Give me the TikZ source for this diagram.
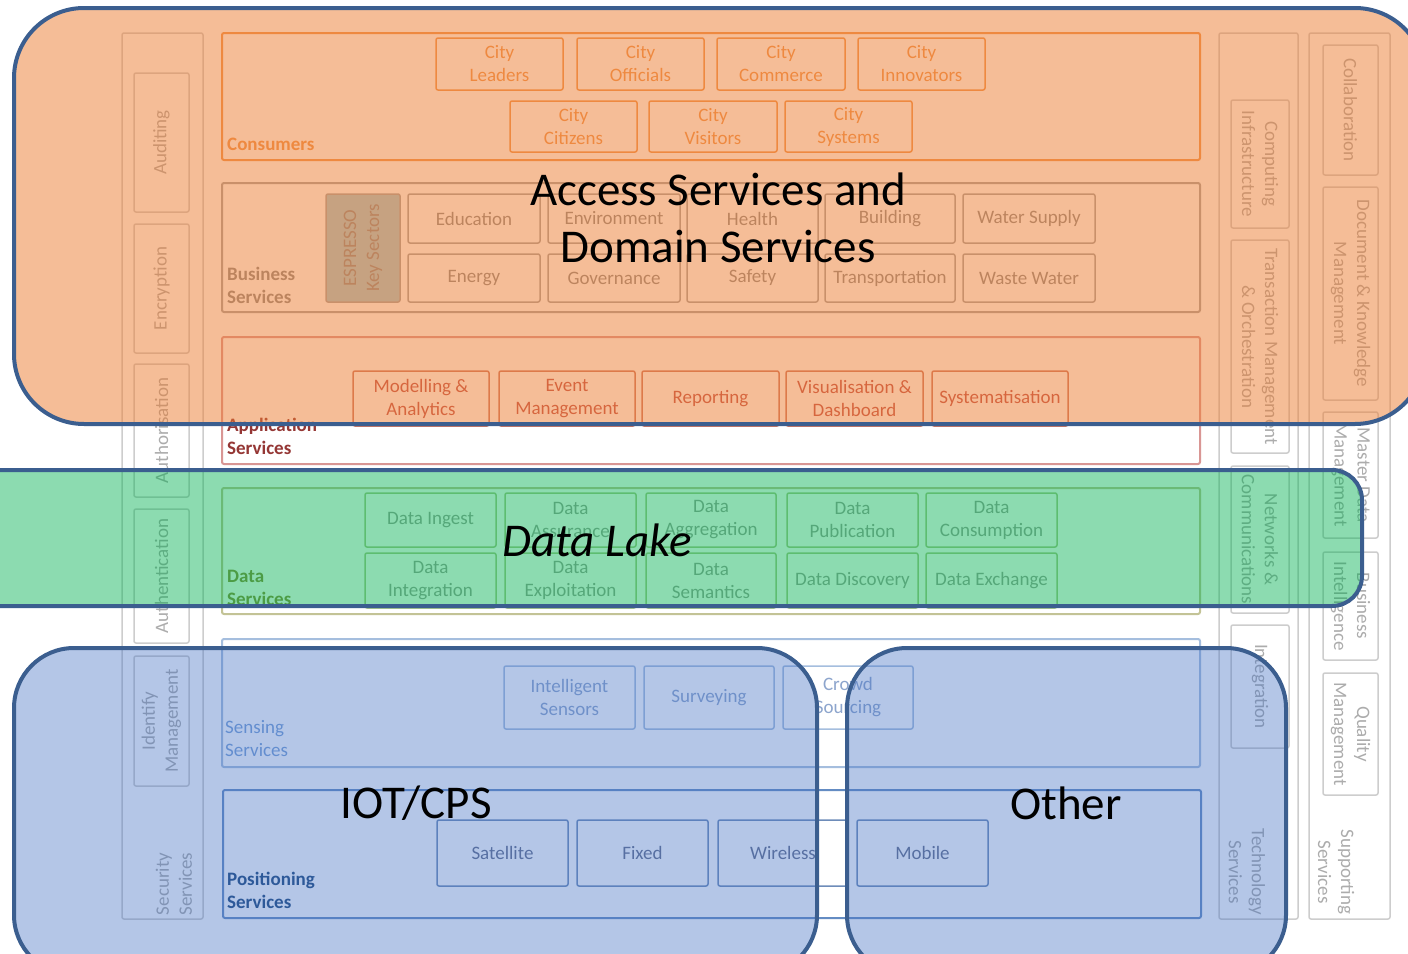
\documentclass[tikz,border=0pt]{standalone}
\usepackage{fontspec}
\setmainfont{Carlito}
\newcommand\smallfnt{\fontsize{19}{23}\selectfont}
\newcommand\bigfnt{\fontsize{47}{57}\selectfont}
\definecolor{ovO}{RGB}{237,125,49}
\definecolor{ovG}{RGB}{0,176,80}
\definecolor{ovB}{RGB}{68,114,196}
\definecolor{ovEdge}{RGB}{59,94,143}
\definecolor{frameGray}{RGB}{205,205,205}
\definecolor{txtGray}{RGB}{172,172,172}
\definecolor{cityC}{RGB}{240,150,80}
\definecolor{busEdge}{RGB}{165,165,165}
\definecolor{busTxt}{RGB}{140,140,140}
\definecolor{espFill}{RGB}{160,200,210}
\definecolor{appEdge}{RGB}{217,150,148}
\definecolor{appBox}{RGB}{205,120,100}
\definecolor{appTxt}{RGB}{192,80,77}
\definecolor{appLbl}{RGB}{149,55,53}
\definecolor{datEdge}{RGB}{195,195,150}
\definecolor{datBox}{RGB}{170,200,140}
\definecolor{datTxt}{RGB}{155,160,155}
\definecolor{datLbl}{RGB}{140,140,60}
\definecolor{senEdge}{RGB}{165,190,222}
\definecolor{senTxt}{RGB}{141,165,205}
\definecolor{senLbl}{RGB}{120,160,215}
\definecolor{posEdge}{RGB}{100,140,195}
\definecolor{posBox}{RGB}{110,140,185}
\definecolor{posTxt}{RGB}{100,110,140}
\definecolor{posLbl}{RGB}{31,73,125}
\newcommand\rbox[7]{%
  \pgfmathsetmacro\rbw{#5-(#3)}%
  \pgfmathsetmacro\rbh{#6-(#4)}%
  \pgfmathsetmacro\rbx{(#3+#5)/2}%
  \pgfmathsetmacro\rby{(#4+#6)/2}%
  \node[#2, minimum width=\rbw pt, minimum height=\rbh pt] (#1) at (\rbx,\rby) {#7};%
}
\tikzset{
  basebox/.style={draw, rectangle, rounded corners=2pt, line width=1.5pt, inner sep=0pt, outer sep=0pt, align=center, font=\smallfnt},
  frame/.style={basebox, draw=frameGray},
  cityb/.style={basebox, draw=cityC, text=cityC},
  outerc/.style={basebox, draw=cityC, line width=2pt},
  busb/.style={basebox, draw=busEdge, text=busTxt},
  outerb/.style={basebox, draw=busEdge, line width=2pt},
  appb/.style={basebox, draw=appBox, text=appTxt},
  outera/.style={basebox, draw=appEdge, line width=2pt},
  datb/.style={basebox, draw=datBox, text=datTxt},
  outerd/.style={basebox, draw=datEdge, line width=2pt},
  senb/.style={basebox, draw=senEdge, text=senTxt},
  outers/.style={basebox, draw=senEdge, line width=2pt},
  posb/.style={basebox, draw=posBox, text=posTxt},
  outerp/.style={basebox, draw=posEdge, line width=2pt},
  stxt/.style={font=\smallfnt, text=txtGray, align=center, inner sep=0pt},
  lbl/.style={font=\smallfnt\bfseries, align=left, anchor=west, inner sep=0pt},
  ovline/.style={draw=ovEdge, line width=4pt},
  bigt/.style={font=\bigfnt, text=black, align=center, inner sep=0pt}
}
\begin{document}
\begin{tikzpicture}[x=1pt,y=-1pt]
\useasboundingbox (0,0) rectangle (1408,953);
\fill[white] (0,0) rectangle (1408,953);
\clip (0,0) rectangle (1408,953);

% ---------- left column: security ----------
\rbox{sec}{frame}{122}{33}{203}{919}{}
\rbox{aud}{frame}{134}{73}{189}{212}{}
\rbox{enc}{frame}{134}{224}{189}{353}{}
\rbox{aut}{frame}{134}{364}{189}{497}{}
\rbox{ath}{frame}{134}{509}{189}{643}{}
\rbox{idm}{frame}{134}{656}{189}{786}{}
\node[stxt, rotate=90] at (aud) {Auditing};
\node[stxt, rotate=90] at (enc) {Encryption};
\node[stxt, rotate=90] at (aut) {Authorisation};
\node[stxt, rotate=90] at (ath) {Authentication};
\node[stxt, rotate=90] at (idm) {Identify\\Management};
\node[stxt, rotate=90] (secl) at (174,884) {Security\\Services};

% ---------- technology column ----------
\rbox{tec}{frame}{1219}{33}{1298}{919}{}
\rbox{cin}{frame}{1231}{100}{1289}{228}{}
\rbox{tmo}{frame}{1231}{240}{1289}{453}{}
\rbox{nac}{frame}{1231}{466}{1289}{613}{}
\rbox{itg}{frame}{1231}{625}{1289}{748}{}
\node[stxt, rotate=-90] at (cin) {Computing\\Infrastructure};
\node[stxt, rotate=-90] at (tmo) {Transaction Management\\\& Orchestration};
\node[stxt, rotate=-90] at (nac) {Networks \&\\Communications};
\node[stxt, rotate=-90] at (itg) {Integration};
\node[stxt, rotate=-90] (tecl) at (1247,872) {Technology\\Services};

% ---------- supporting column ----------
\rbox{sup}{frame}{1309}{33}{1390}{919}{}
\rbox{col}{frame}{1323}{45}{1378}{175}{}
\rbox{dkm}{frame}{1323}{187}{1378}{400}{}
\rbox{mdm}{frame}{1323}{412}{1378}{538}{}
\rbox{bin}{frame}{1323}{552}{1378}{660}{}
\rbox{qm}{frame}{1323}{673}{1378}{795}{}
\node[stxt, rotate=-90] at (col) {Collaboration};
\node[stxt, rotate=-90] at (dkm) {Document \& Knowledge\\Management};
\node[stxt, rotate=-90] at (mdm) {Master Data\\Management};
\node[stxt, rotate=-90] at (bin) {Business\\Intelligence};
\node[stxt, rotate=-90] at (qm) {Quality\\Management};
\node[stxt, rotate=-90] (supl) at (1336,872) {Supporting\\Services};

% ---------- consumers ----------
\rbox{cons}{outerc}{222}{33}{1200}{160}{}
\node[lbl, text=cityC] (lcons) at (227,144) {Consumers};
\rbox{cle}{cityb}{436}{38}{563}{90}{City\\Leaders}
\rbox{cof}{cityb}{577}{38}{704}{90}{City\\Officials}
\rbox{cco}{cityb}{717}{38}{845}{90}{City\\Commerce}
\rbox{cin2}{cityb}{858}{38}{985}{90}{City\\Innovators}
\rbox{cci}{cityb}{510}{101}{637}{152}{City\\Citizens}
\rbox{cvi}{cityb}{649}{101}{777}{152}{City\\Visitors}
\rbox{csy}{cityb}{785}{101}{912}{152}{City\\Systems}

% ---------- business services ----------
\rbox{bus}{outerb}{222}{183}{1200}{312}{}
\node[lbl, text=busTxt] (lbus) at (227,285) {Business\\Services};
\rbox{esp}{busb, fill=espFill}{326}{194}{400}{302}{}
\node[stxt, text=busTxt, rotate=90] at (esp) {ESPRESSO\\Key Sectors};
\rbox{edu}{busb}{408}{194}{540}{243}{Education}
\rbox{env}{busb}{548}{194}{680}{243}{Environment}
\rbox{hea}{busb}{687}{194}{818}{243}{Health}
\rbox{bld}{busb}{825}{194}{955}{243}{Building}
\rbox{wsu}{busb}{963}{194}{1095}{243}{Water Supply}
\rbox{ene}{busb}{408}{254}{540}{302}{Energy}
\rbox{gov}{busb}{548}{254}{680}{302}{Governance}
\rbox{saf}{busb}{687}{254}{818}{302}{Safety}
\rbox{tra}{busb}{825}{254}{955}{302}{Transportation}
\rbox{wwa}{busb}{963}{254}{1095}{302}{Waste Water}

% ---------- application services ----------
\rbox{app}{outera}{222}{337}{1200}{464}{}
\node[lbl, text=appLbl] (lapp) at (227,436) {Application\\Services};
\rbox{mod}{appb}{353}{371}{489}{426}{Modelling \&\\Analytics}
\rbox{evm}{appb}{499}{371}{635}{426}{Event\\Management}
\rbox{rep}{appb}{642}{371}{779}{426}{Reporting}
\rbox{vis}{appb}{786}{371}{923}{426}{Visualisation \&\\Dashboard}
\rbox{sys}{appb}{932}{371}{1068}{426}{Systematisation}

% ---------- data services ----------
\rbox{dat}{outerd}{222}{488}{1200}{614}{}
\node[lbl, text=datLbl] (ldat) at (227,588) {Data\\Services};
\rbox{din}{datb}{365}{493}{496}{547}{Data Ingest}
\rbox{das}{datb}{505}{493}{636}{547}{Data\\Assurance}
\rbox{dag}{datb}{646}{493}{776}{547}{Data\\Aggregation}
\rbox{dpu}{datb}{787}{493}{918}{547}{Data\\Publication}
\rbox{dco}{datb}{926}{493}{1057}{547}{Data\\Consumption}
\rbox{dit}{datb}{365}{553}{496}{608}{Data\\Integration}
\rbox{dex}{datb}{505}{553}{636}{608}{Data\\Exploitation}
\rbox{dse}{datb}{646}{553}{776}{608}{Data\\Semantics}
\rbox{ddi}{datb}{787}{553}{918}{608}{Data Discovery}
\rbox{dxc}{datb}{926}{553}{1057}{608}{Data Exchange}

% ---------- sensing services ----------
\rbox{sen}{outers}{222}{639}{1200}{767}{}
\node[lbl, font=\smallfnt, text=senLbl] (lsen) at (225,739) {Sensing\\Services};
\rbox{ise}{senb}{504}{666}{635}{729}{Intelligent\\Sensors}
\rbox{sur}{senb}{644}{666}{774}{729}{Surveying}
\rbox{crs}{senb}{783}{666}{913}{729}{Crowd\\Sourcing}

% ---------- positioning services ----------
\rbox{pos}{outerp}{223}{790}{1201}{918}{}
\node[lbl, text=posLbl] (lpos) at (227,890) {Positioning\\Services};
\rbox{sat}{posb}{437}{820}{568}{886}{Satellite}
\rbox{fix}{posb}{577}{820}{708}{886}{Fixed}
\rbox{wir}{posb}{718}{820}{848}{886}{Wireless}
\rbox{mob}{posb}{857}{820}{988}{886}{Mobile}

% ---------- overlays ----------
\path[ovline, fill=ovO, fill opacity=0.5, rounded corners=70pt] (14,8) rectangle (1425,424);
\path[ovline, fill=ovG, fill opacity=0.45, rounded corners=30pt] (-40,470) rectangle (1362,606);
\path[ovline, fill=ovB, fill opacity=0.4, rounded corners=60pt] (14,648) rectangle (817,975);
\path[ovline, fill=ovB, fill opacity=0.4, rounded corners=60pt] (847,648) rectangle (1286,975);

\node[bigt] (acc) at (718,218) {Access Services and\\Domain Services};
\node[bigt, font=\bigfnt\itshape] (dl) at (597,540) {Data Lake};
\node[bigt] (iot) at (416,803) {IOT/CPS};
\node[bigt] (oth) at (1066,803) {Other};
\end{tikzpicture}
\end{document}
